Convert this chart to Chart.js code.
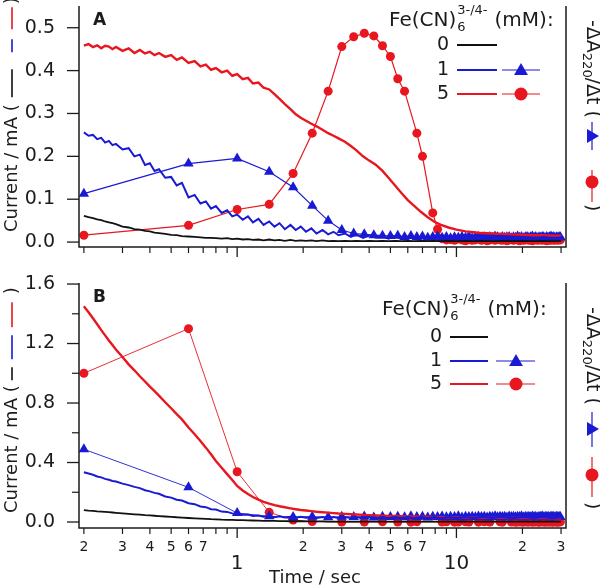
<!DOCTYPE html>
<html>
<head>
<meta charset="utf-8">
<script src="https://cdn.jsdelivr.net/npm/chart.js@4.4.0/dist/chart.umd.min.js"></script>
<style>
html, body { margin: 0; padding: 0; background: #fff; }
#wrap { position: relative; width: 600px; height: 586px; }
canvas { position: absolute; left: 0; }
#panelA { top: 0; }
#panelB { top: 275px; }
</style>
</head>
<body>
<div id="wrap">
  <canvas id="panelA" width="600" height="275"></canvas>
  <canvas id="panelB" width="600" height="311"></canvas>
</div>
<script>
// time base of the current traces (sec)
const traceTime = [0.20,0.21,0.22,0.23,0.24,0.25,0.26,0.27,0.28,0.30,
  0.32,0.34,0.36,0.38,0.40,0.42,0.44,0.47,0.50,0.53,
  0.56,0.60,0.64,0.68,0.72,0.76,0.80,0.85,0.90,0.95,
  1.00,1.06,1.12,1.18,1.25,1.32,1.40,1.48,1.56,1.65,
  1.75,1.85,1.95,2.06,2.18,2.30,2.45,2.60,2.75,2.90,
  3.1,3.3,3.5,3.75,4.0,4.3,4.6,4.9,5.25,5.6,
  6.0,6.4,6.9,7.4,7.9,8.5,9.2,10,11,12,
  13,14.5,16,18,20,22.5,25,27.5,30];

// panel A currents (mA)
const currentA0 = [0.061,0.058,0.056,0.053,0.051,0.048,0.046,0.044,0.042,0.036,
  0.034,0.030,0.029,0.026,0.025,0.022,0.021,0.019,0.017,0.016,
  0.014,0.013,0.012,0.011,0.010,0.010,0.009,0.008,0.009,0.007,
  0.008,0.006,0.007,0.005,0.006,0.004,0.006,0.004,0.005,0.003,
  0.005,0.003,0.004,0.003,0.004,0.002,0.004,0.002,0.003,0.002,
  0.003,0.002,0.003,0.002,0.003,0.002,0.003,0.002,0.003,0.002,
  0.003,0.002,0.003,0.002,0.003,0.002,0.003,0.002,0.003,0.002,
  0.003,0.002,0.003,0.002,0.003,0.002,0.003,0.002,0.003];
const currentA1 = [0.256,0.248,0.250,0.240,0.243,0.232,0.236,0.226,0.229,0.216,
  0.219,0.200,0.204,0.180,0.184,0.166,0.170,0.150,0.152,0.132,
  0.138,0.104,0.110,0.090,0.095,0.078,0.084,0.068,0.074,0.060,
  0.064,0.052,0.060,0.046,0.054,0.040,0.048,0.036,0.044,0.030,
  0.040,0.028,0.036,0.024,0.032,0.020,0.028,0.018,0.024,0.016,
  0.020,0.012,0.018,0.010,0.016,0.010,0.014,0.008,0.014,0.008,
  0.013,0.008,0.012,0.007,0.012,0.007,0.012,0.007,0.012,0.007,
  0.012,0.007,0.012,0.007,0.012,0.007,0.012,0.007,0.011];
const currentA5 = [0.458,0.462,0.455,0.459,0.452,0.458,0.456,0.450,0.455,0.446,
  0.452,0.441,0.448,0.440,0.444,0.436,0.441,0.432,0.436,0.425,
  0.431,0.418,0.422,0.410,0.414,0.402,0.406,0.396,0.400,0.388,
  0.392,0.380,0.383,0.370,0.372,0.360,0.356,0.345,0.334,0.322,
  0.310,0.298,0.290,0.283,0.276,0.270,0.262,0.254,0.248,0.242,
  0.234,0.224,0.214,0.200,0.190,0.180,0.166,0.150,0.132,0.115,
  0.098,0.085,0.070,0.058,0.048,0.040,0.034,0.029,0.025,0.023,
  0.021,0.020,0.019,0.018,0.017,0.016,0.016,0.015,0.015];

// panel B currents (mA)
const currentB0 = [0.080,0.077,0.075,0.072,0.070,0.068,0.066,0.064,0.062,0.058,
  0.055,0.052,0.049,0.046,0.044,0.042,0.040,0.037,0.035,0.032,
  0.030,0.027,0.025,0.023,0.021,0.019,0.018,0.016,0.015,0.014,
  0.013,0.012,0.011,0.010,0.009,0.008,0.007,0.007,0.006,0.006,
  0.005,0.005,0.005,0.004,0.004,0.004,0.004,0.003,0.003,0.003,
  0.003,0.003,0.003,0.003,0.003,0.003,0.003,0.003,0.003,0.003,
  0.003,0.003,0.003,0.003,0.003,0.003,0.003,0.003,0.003,0.003,
  0.003,0.003,0.003,0.003,0.003,0.003,0.003,0.003,0.003];
const currentB1 = [0.335,0.326,0.318,0.306,0.300,0.290,0.284,0.276,0.272,0.258,
  0.248,0.236,0.228,0.214,0.206,0.196,0.190,0.172,0.164,0.150,
  0.144,0.126,0.120,0.104,0.100,0.086,0.084,0.070,0.068,0.058,
  0.056,0.048,0.050,0.040,0.044,0.036,0.040,0.032,0.038,0.030,
  0.036,0.028,0.035,0.028,0.034,0.027,0.034,0.027,0.034,0.027,
  0.033,0.027,0.034,0.026,0.033,0.027,0.034,0.026,0.033,0.027,
  0.034,0.026,0.033,0.027,0.034,0.026,0.033,0.027,0.034,0.026,
  0.033,0.027,0.034,0.026,0.033,0.027,0.034,0.026,0.032];
const currentB5 = [1.450,1.410,1.370,1.330,1.290,1.255,1.220,1.190,1.160,1.110,
  1.060,1.020,0.980,0.945,0.910,0.880,0.850,0.805,0.765,0.725,
  0.690,0.635,0.590,0.545,0.500,0.455,0.410,0.365,0.322,0.282,
  0.242,0.212,0.188,0.168,0.150,0.136,0.124,0.114,0.106,0.099,
  0.092,0.086,0.081,0.077,0.073,0.069,0.066,0.063,0.060,0.057,
  0.055,0.052,0.050,0.048,0.046,0.044,0.043,0.041,0.040,0.039,
  0.038,0.037,0.036,0.035,0.034,0.033,0.032,0.031,0.030,0.029,
  0.029,0.028,0.028,0.027,0.027,0.026,0.026,0.025,0.025];

// -dA220/dt, panel A, 1 mM (triangles)
const absTimeA1 = [0.2,0.6,1.0,1.4,1.8,2.2,2.6,3.0,
  3.4,3.8,4.2,4.6,5.0,5.4,5.8,6.2,6.6,7.0,
  7.4,7.8,8.2,8.6,9.0,9.4,9.8,10.2,10.6,11.0,
  11.4,11.8,12.2,12.6,13.0,13.4,13.8,14.2,14.6,15.0,
  15.4,15.8,16.2,16.6,17.0,17.4,17.8,18.2,18.6,19.0,
  19.4,19.8,20.2,20.6,21.0,21.4,21.8,22.2,22.6,23.0,
  23.4,23.8,24.2,24.6,25.0,25.4,25.8,26.2,26.6,27.0,
  27.4,27.8,28.2,28.6,29.0,29.4,29.8];
const absA1 = [0.113,0.183,0.195,0.164,0.128,0.085,0.050,0.028,
  0.020,0.018,0.016,0.015,0.014,0.015,0.012,0.014,0.012,0.013,
  0.010,0.012,0.013,0.010,0.012,0.009,0.011,0.010,0.012,0.010,
  0.013,0.009,0.011,0.012,0.010,0.011,0.009,0.012,0.010,0.013,
  0.011,0.009,0.012,0.010,0.011,0.012,0.009,0.011,0.010,0.013,
  0.010,0.012,0.009,0.011,0.012,0.010,0.011,0.013,0.010,0.012,
  0.009,0.011,0.010,0.012,0.011,0.009,0.012,0.010,0.011,0.013,
  0.010,0.012,0.009,0.011,0.010,0.012,0.011];

// -dA220/dt, panel A, 5 mM (circles)
const absTimeA5 = [0.2,0.6,1.0,1.4,1.8,2.2,2.6,3.0,3.4,3.8,
  4.2,4.6,5.0,5.4,5.8,6.6,7.0,7.8,8.2,
  8.6,9.0,9.4,9.8,10.2,10.6,11.0,11.4,11.8,12.2,
  12.6,13.0,13.4,13.8,14.2,14.6,15.0,15.4,15.8,16.2,
  16.6,17.0,17.4,17.8,18.2,18.6,19.0,19.4,19.8,20.2,
  20.6,21.0,21.4,21.8,22.2,22.6,23.0,23.4,23.8,24.2,
  24.6,25.0,25.4,25.8,26.2,26.6,27.0,27.4,27.8,28.2,
  28.6,29.0,29.4,29.8];
const absA5 = [0.016,0.039,0.076,0.088,0.160,0.254,0.352,0.456,0.479,0.487,
  0.481,0.458,0.433,0.381,0.352,0.254,0.200,0.068,0.030,
  0.008,0.005,0.006,0.004,0.007,0.005,0.003,0.006,0.004,0.005,
  0.007,0.004,0.006,0.003,0.005,0.006,0.004,0.007,0.005,0.004,
  0.006,0.003,0.005,0.007,0.004,0.006,0.005,0.003,0.006,0.004,
  0.005,0.007,0.004,0.006,0.003,0.005,0.006,0.004,0.005,0.007,
  0.004,0.006,0.005,0.003,0.006,0.004,0.005,0.006,0.004,0.005,
  0.007,0.004,0.006,0.005];

// -dA220/dt, panel B, 1 mM (triangles)
const absTimeB1 = [0.2,0.6,1.0,
  1.4,1.8,2.2,2.6,3.0,3.4,3.8,4.2,4.6,5.0,
  5.4,5.8,6.2,6.6,7.0,7.4,7.8,8.2,8.6,9.0,
  9.4,9.8,10.2,10.6,11.0,11.4,11.8,12.2,12.6,13.0,
  13.4,13.8,14.2,14.6,15.0,15.4,15.8,16.2,16.6,17.0,
  17.4,17.8,18.2,18.6,19.0,19.4,19.8,20.2,20.6,21.0,
  21.4,21.8,22.2,22.6,23.0,23.4,23.8,24.2,24.6,25.0,
  25.4,25.8,26.2,26.6,27.0,27.4,27.8,28.2,28.6,29.0,
  29.4,29.8];
const absB1 = [0.489,0.233,0.060,
  0.038,0.034,0.036,0.032,0.035,0.033,0.037,0.031,0.035,0.034,
  0.036,0.032,0.038,0.033,0.035,0.031,0.036,0.034,0.037,0.032,
  0.035,0.033,0.038,0.031,0.036,0.034,0.035,0.032,0.037,0.033,
  0.036,0.031,0.035,0.034,0.038,0.032,0.036,0.033,0.035,0.031,
  0.037,0.034,0.036,0.032,0.035,0.033,0.038,0.031,0.036,0.034,
  0.035,0.032,0.037,0.033,0.036,0.031,0.035,0.034,0.038,0.032,
  0.036,0.033,0.035,0.031,0.037,0.034,0.036,0.032,0.035,0.033,
  0.036,0.034];

// -dA220/dt, panel B, 5 mM (circles)
const absTimeB5 = [0.2,0.6,1.0,1.4,1.8,2.2,3.0,3.8,4.6,5.4,
  6.2,6.6,8.6,9.0,9.8,10.2,11.0,11.4,12.6,13.4,
  14.2,15.8,16.2,
  17.8,18.2,18.6,19.0,19.4,19.8,20.2,20.6,21.0,21.4,
  21.8,22.2,22.6,23.0,23.4,23.8,24.2,24.6,25.0,25.4,
  25.8,26.2,26.6,27.0,27.4,27.8,28.2,28.6,29.0,29.4,
  29.8];
const absB5 = [1.00,1.30,0.338,0.065,0.013,0.003,0.000,0.000,0.001,0.000,
  -0.001,0.001,0.000,0.001,-0.001,0.000,0.001,0.000,-0.001,0.001,
  0.000,0.001,-0.001,
  0.000,0.001,-0.001,0.000,0.001,0.000,-0.001,0.001,0.000,0.000,
  0.001,-0.001,0.000,0.001,0.000,-0.001,0.000,0.001,0.000,-0.001,
  0.001,0.000,0.000,0.001,-0.001,0.000,0.001,0.000,-0.001,0.000,
  0.001];

// axes ticks and labels
const xMinorTicks = [0.2,0.3,0.4,0.5,0.6,0.7,0.8,0.9,2,3,4,5,6,7,8,9,20,30];
const xMajorTicks = [1, 10];
const xMajorLabels = ['1', '10'];
const xMinorLabelAt = [0.2,0.3,0.4,0.5,0.6,0.7,2,3,4,5,6,7,20,30];
const xMinorLabels = ['2','3','4','5','6','7','2','3','4','5','6','7','2','3'];
const yTicksA = [0, 0.1, 0.2, 0.3, 0.4, 0.5];
const yLabelsA = ['0.0','0.1','0.2','0.3','0.4','0.5'];
const yTicksB = [0, 0.4, 0.8, 1.2, 1.6];
const yLabelsB = ['0.0','0.4','0.8','1.2','1.6'];
const yMinorB = [0.2, 0.6, 1.0, 1.4];
const concLabels = ['0', '1', '5'];

const ink = '#1b1b1b';
const red = '#e8161e';
const blue = '#1a1ad2';
const black = '#111111';
const seriesColors = [black, blue, red];
const FONT = '"DejaVu Sans", sans-serif';

function put(ctx, s, x, y, size, align, base, weight) {
  ctx.font = (weight || '') + ' ' + size + 'px ' + FONT;
  ctx.textAlign = align || 'left';
  ctx.textBaseline = base || 'alphabetic';
  ctx.fillStyle = ink;
  ctx.fillText(s, x, y);
  return ctx.measureText(s).width;
}

function seg(ctx, x1, y1, x2, y2, color, w) {
  ctx.strokeStyle = color;
  ctx.lineWidth = w;
  ctx.beginPath();
  ctx.moveTo(x1, y1);
  ctx.lineTo(x2, y2);
  ctx.stroke();
}

function mark(ctx, kind, x, y, r, color) {
  ctx.fillStyle = color;
  ctx.beginPath();
  if (kind === 'circle') {
    ctx.arc(x, y, r, 0, Math.PI * 2);
  } else {
    ctx.moveTo(x, y - r);
    ctx.lineTo(x + r * 0.866, y + r / 2);
    ctx.lineTo(x - r * 0.866, y + r / 2);
    ctx.closePath();
  }
  ctx.fill();
}

function legend(ctx, L) {
  let x = L.x;
  x += put(ctx, 'Fe(CN)', x, L.base, 20);
  const w6 = put(ctx, '6', x + 1, L.base + 5, 13);
  const wS = put(ctx, '3-/4-', x + 1, L.base - 12, 13);
  x += Math.max(w6, wS) + 8;
  put(ctx, '(mM):', x, L.base, 20);
  concLabels.forEach((c, i) => {
    const y = L.rows[i];
    put(ctx, c, L.num, y, 19, 'right', 'middle');
    seg(ctx, L.s1[0], y, L.s1[1], y, seriesColors[i], 2.2);
    if (i > 0) {
      seg(ctx, L.s2[0], y, L.s2[1], y, seriesColors[i], 1.2);
      mark(ctx, i === 1 ? 'triangle' : 'circle', L.mk, y + (i === 1 ? 1 : 0), i === 1 ? 8 : 6.5, seriesColors[i]);
    }
  });
}

function leftTitle(ctx, cx, startY, T) {
  ctx.save();
  ctx.translate(cx, startY);
  ctx.rotate(-Math.PI / 2);
  const w = put(ctx, 'Current / mA (', 0, 0, 18, 'left', 'middle');
  T.segs.forEach((s, i) => seg(ctx, w + s[0], 0, w + s[1], 0, seriesColors[i], 1.6));
  put(ctx, ')', w + T.close, 0, 18, 'left', 'middle');
  ctx.restore();
}

function rightTitle(ctx, cx, startY, T) {
  ctx.save();
  ctx.translate(cx, startY);
  ctx.rotate(Math.PI / 2);
  let d = put(ctx, '-ΔA', 0, 0, 19, 'left', 'middle');
  d += put(ctx, '220', d, 6, 13, 'left', 'middle');
  d += put(ctx, '/Δt (', d, 0, 19, 'left', 'middle');
  seg(ctx, d + T.blue[0], 0, d + T.blue[1], 0, blue, 1.2);
  mark(ctx, 'triangle', d + T.blue[2], 1, 8, blue);
  seg(ctx, d + T.red[0], 0, d + T.red[1], 0, red, 1.2);
  mark(ctx, 'circle', d + T.red[2], 0, 6.5, red);
  put(ctx, ')', d + T.close, 0, 19, 'left', 'middle');
  ctx.restore();
}

function axesPlugin(cfg) {
  return {
    id: 'igorAxes',
    afterDraw(chart) {
      const { ctx, chartArea: a, scales: { x, y } } = chart;
      ctx.save();
      ctx.strokeStyle = ink;
      ctx.lineWidth = 1.5;
      ctx.beginPath();
      ctx.moveTo(a.left, a.top);
      ctx.lineTo(a.left, a.bottom);
      ctx.lineTo(a.right, a.bottom);
      ctx.lineTo(a.right, a.top);
      ctx.stroke();

      xMinorTicks.forEach(v => { const px = x.getPixelForValue(v); seg(ctx, px, a.bottom, px, a.bottom + 6, ink, 1.2); });
      xMajorTicks.forEach(v => { const px = x.getPixelForValue(v); seg(ctx, px, a.bottom, px, a.bottom + 10, ink, 1.3); });
      cfg.yTicks.forEach((v, i) => {
        const py = y.getPixelForValue(v);
        seg(ctx, a.left - 12, py, a.left, py, ink, 1.3);
        put(ctx, cfg.yLabels[i], a.left - 24, py, 19, 'right', 'middle');
      });
      (cfg.yMinor || []).forEach(v => { const py = y.getPixelForValue(v); seg(ctx, a.left - 7, py, a.left, py, ink, 1.2); });

      if (cfg.xLabels) {
        xMinorLabelAt.forEach((v, i) => put(ctx, xMinorLabels[i], x.getPixelForValue(v), cfg.xLabels.minor, 14, 'center', 'middle'));
        xMajorTicks.forEach((v, i) => put(ctx, xMajorLabels[i], x.getPixelForValue(v), cfg.xLabels.major, 20, 'center', 'middle'));
        put(ctx, 'Time / sec', 315, cfg.xLabels.title, 18, 'center', 'middle');
      }

      put(ctx, cfg.tag, 93, cfg.tagY, 17, 'left', 'alphabetic', 'bold');
      legend(ctx, cfg.legend);
      leftTitle(ctx, 12, cfg.leftStart, cfg.leftTitle);
      rightTitle(ctx, 592, cfg.rightStart, cfg.rightTitle);
      ctx.restore();
    }
  };
}

function pairs(ts, vs) {
  return ts.map((t, i) => ({ x: t, y: vs[i] }));
}

function trace(color, vals, width) {
  return { data: pairs(traceTime, vals), showLine: true, borderColor: color, borderWidth: width,
    pointRadius: 0, tension: 0, fill: false, clip: false };
}

function markers(color, ts, vs, style, r, width) {
  return { data: pairs(ts, vs), showLine: true, borderColor: color, backgroundColor: color, borderWidth: width,
    pointStyle: style, pointRadius: r, pointBorderWidth: 0, tension: 0, fill: false, clip: false };
}

function makePanel(id, cfg, datasets) {
  return new Chart(document.getElementById(id), {
    type: 'scatter',
    data: { datasets },
    options: {
      responsive: false,
      animation: false,
      devicePixelRatio: 1,
      events: [],
      layout: { padding: { left: 0, right: 34, top: cfg.top, bottom: 0 } },
      plugins: { legend: { display: false }, tooltip: { enabled: false } },
      scales: {
        x: { type: 'logarithmic', min: 0.19, max: 31.6,
          grid: { display: false }, ticks: { display: false }, border: { display: false },
          afterFit: s => { s.height = cfg.xh; } },
        y: { type: 'linear', min: cfg.ymin, max: cfg.ymax,
          grid: { display: false }, ticks: { display: false }, border: { display: false },
          afterFit: s => { s.width = 79; } }
      }
    },
    plugins: [axesPlugin(cfg)]
  });
}

makePanel('panelA', {
  top: 3, xh: 28, ymin: -0.0115, ymax: 0.5507,
  yTicks: yTicksA, yLabels: yLabelsA,
  tag: 'A', tagY: 25,
  legend: { x: 389, base: 26, rows: [45, 70, 94], num: 449, s1: [457, 497], s2: [502, 540], mk: 521 },
  leftStart: 232, leftTitle: { segs: [[7, 35], [52, 65], [75, 97]], close: 100 },
  rightStart: 20, rightTitle: { blue: [4, 32, 18], red: [52, 84, 64], close: 86 }
}, [
  trace(black, currentA0, 1.8),
  trace(blue, currentA1, 2),
  trace(red, currentA5, 2.4),
  markers(blue, absTimeA1, absA1, 'triangle', 6, 1.2),
  markers(red, absTimeA5, absA5, 'circle', 4.5, 1.2)
]);

makePanel('panelB', {
  top: 8, xh: 58, ymin: -0.0403, ymax: 1.607,
  yTicks: yTicksB, yLabels: yLabelsB, yMinor: yMinorB,
  xLabels: { minor: 272, major: 289, title: 303 },
  tag: 'B', tagY: 27,
  legend: { x: 382, base: 40, rows: [62, 86, 109], num: 442, s1: [450, 488], s2: [496, 535], mk: 516 },
  leftStart: 238, leftTitle: { segs: [[5, 18], [26, 50], [58, 83]], close: 91 },
  rightStart: 32, rightTitle: { blue: [7, 42, 24], red: [52, 92, 70], close: 97 }
}, [
  trace(black, currentB0, 1.8),
  trace(blue, currentB1, 2),
  trace(red, currentB5, 2.4),
  markers(blue, absTimeB1, absB1, 'triangle', 6, 0.9),
  markers(red, absTimeB5, absB5, 'circle', 4.5, 0.9)
]);
</script>
</body>
</html>
